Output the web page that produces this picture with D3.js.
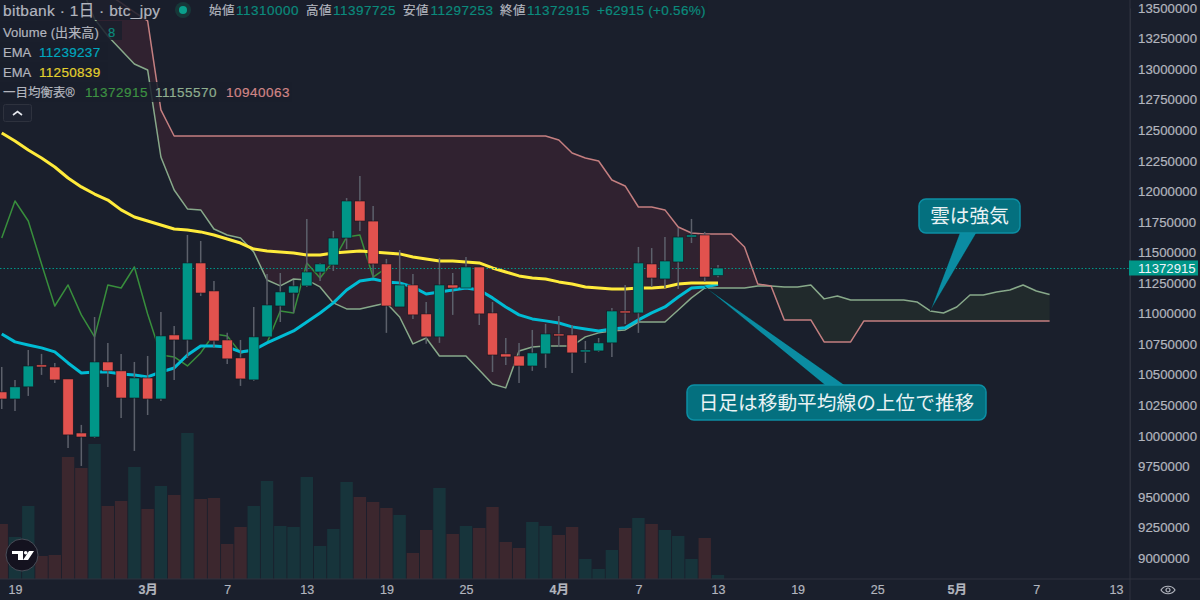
<!DOCTYPE html>
<html>
<head>
<meta charset="utf-8">
<style>
html, body { margin: 0; padding: 0; background: #1a1f2c; }
svg { display: block; }
text { font-family: "Liberation Sans", "Noto Sans CJK JP", sans-serif; }
.axis text { fill: #b2b5be; stroke: #b2b5be; stroke-width: 0.2; }
.jp { font-family: "Noto Sans CJK JP", sans-serif; }
</style>
<script src="https://cdn.jsdelivr.net/npm/d3@7"></script>
</head>
<body>
<svg id="chart" width="1200" height="600"></svg>
<script>
// daily candles, first one is 18 Feb
const opens = [10359000,10301000,10400000,10580000,10563000,10465000,10023000,9990000,10604000,10531000,10309000,10473000,10301000,10825000,10784000,11414000,11185000,10784000,10637000,10457000,10809000,11062000,11168000,11226000,11340000,11397000,11618000,11921000,11757000,11406000,11054000,11234000,10997000,10809000,11234000,11209000,11381000,11005000,10670000,10653000,10571000,10670000,10833000,10825000,10686000,10694000,10760000,11021000,11005000,11406000,11283000,11422000,11626000,11643000,11310000];
const highs = [10563000,10457000,10702000,10670000,10596000,10465000,10089000,10972000,10760000,10670000,10604000,10653000,11013000,10898000,11643000,11594000,11267000,10842000,10784000,11054000,11324000,11332000,11275000,11774000,11414000,11676000,11945000,12125000,11880000,11447000,11520000,11324000,11095000,11455000,11332000,11463000,11381000,11095000,10800000,10760000,10866000,10915000,10980000,10907000,10776000,10800000,11046000,11234000,11545000,11536000,11626000,11700000,11774000,11668000,11397725];
const lows = [10219000,10203000,10326000,10498000,10432000,9900000,9753000,9982000,10400000,10146000,9876000,10170000,10285000,10457000,10637000,11144000,10719000,10588000,10408000,10449000,10809000,10931000,11005000,11218000,11267000,11348000,11528000,11676000,11299000,10842000,11054000,10956000,10752000,10760000,10989000,11209000,10907000,10522000,10580000,10432000,10531000,10555000,10727000,10514000,10596000,10686000,10645000,10915000,10842000,11218000,11209000,11201000,11577000,11259000,11297253];
const closes = [10301000,10400000,10571000,10563000,10457000,10007000,9990000,10604000,10531000,10309000,10473000,10301000,10817000,10784000,11414000,11168000,10776000,10629000,10465000,10809000,11070000,11177000,11226000,11340000,11406000,11618000,11921000,11757000,11406000,11062000,11234000,10989000,10809000,11234000,11209000,11381000,10997000,10661000,10645000,10571000,10678000,10833000,10817000,10678000,10702000,10760000,11021000,11005000,11414000,11291000,11430000,11626000,11643000,11299000,11372915];
const volumes = [110,84,146,46,48,244,222,270,146,156,224,140,186,168,292,160,162,70,104,146,196,106,104,204,66,100,194,164,154,142,128,52,98,182,90,106,102,144,74,62,114,106,88,104,40,20,58,102,122,110,98,86,40,82,8];

const emaFast = [10833000,10768000,10743000,10719000,10686000,10596000,10514000,10522000,10522000,10506000,10498000,10482000,10522000,10555000,10661000,10735000,10735000,10727000,10686000,10702000,10760000,10809000,10858000,10931000,11005000,11087000,11193000,11267000,11283000,11259000,11250000,11218000,11160000,11177000,11193000,11209000,11193000,11128000,11054000,10989000,10956000,10940000,10923000,10891000,10874000,10858000,10874000,10883000,10948000,11005000,11054000,11136000,11209000,11218000,11239237];
const emaSlow = [12477000,12412000,12338000,12273000,12199000,12109000,12036000,11978000,11929000,11848000,11790000,11757000,11725000,11692000,11684000,11668000,11643000,11610000,11577000,11528000,11512000,11504000,11496000,11479000,11479000,11496000,11504000,11512000,11504000,11496000,11488000,11463000,11447000,11430000,11430000,11422000,11414000,11373000,11340000,11308000,11291000,11283000,11259000,11242000,11218000,11209000,11201000,11201000,11209000,11209000,11218000,11242000,11250000,11250000,11250839];

// ichimoku, lagging line starts 18 Feb, both spans start 24 Feb
const lagging = [11618000,11921000,11757000,11406000,11062000,11234000,10989000,10809000,11234000,11209000,11381000,10997000,10661000,10645000,10571000,10678000,10833000,10817000,10678000,10702000,10760000,11021000,11005000,11414000,11291000,11430000,11626000,11643000,11299000,11372915];
const spanA = [13672000,13410000,13271000,13156000,13042000,12993000,12281000,12011000,11856000,11848000,11692000,11643000,11618000,11504000,11275000,11226000,11283000,11275000,11218000,11087000,11038000,11038000,11062000,11087000,10972000,10752000,10800000,10653000,10653000,10653000,10539000,10424000,10392000,10694000,10727000,10735000,10735000,10735000,10809000,10842000,10858000,10866000,10931000,10931000,10931000,11029000,11128000,11209000,11209000,11209000,11209000,11226000,11226000,11218000,11218000,11234000,11120000,11144000,11111000,11111000,11111000,11111000,11111000,11095000,11021000,11005000,11054000,11152000,11152000,11177000,11193000,11234000,11185000,11155570];
const spanB = [13762000,13688000,13614000,13541000,13467000,13394000,12666000,12453000,12453000,12453000,12453000,12453000,12453000,12453000,12453000,12453000,12453000,12453000,12453000,12453000,12453000,12453000,12453000,12453000,12453000,12453000,12453000,12453000,12453000,12453000,12453000,12453000,12453000,12453000,12453000,12453000,12420000,12314000,12273000,12248000,12093000,12044000,11872000,11872000,11848000,11708000,11659000,11651000,11651000,11651000,11545000,11242000,11226000,10948000,10948000,10948000,10768000,10768000,10768000,10940063,10940063,10940063,10940063,10940063,10940063,10940063,10940063,10940063,10940063,10940063,10940063,10940063,10940063,10940063];

const tickDates = ["2025-02-19","2025-03-01","2025-03-07","2025-03-13","2025-03-19","2025-03-25","2025-04-01","2025-04-07","2025-04-13","2025-04-19","2025-04-25","2025-05-01","2025-05-07","2025-05-13"];
const tickLabels = ["19","3月","7","13","19","25","4月","7","13","19","25","5月","7","13"];
const priceTicks = d3.range(9000000, 13500001, 250000);

const UP = "#009688", DOWN = "#e2524e", BG = "#1a1f2c", LINE = "#2e323e";
const plotW = 1130, plotH = 579;

const firstDay = new Date(Date.UTC(2025, 1, 18));
const dayAt = n => d3.utcDay.offset(firstDay, n);
const x = d3.scaleUtc().domain([new Date("2025-02-19"), new Date("2025-04-13")]).range([15, 718]);
const y = d3.scaleLinear().domain([9000000, 13500000]).range([558, 8]);
const yVol = d3.scaleLinear().domain([0, 292]).range([plotH, 433]);

const svg = d3.select("#chart");
svg.append("rect").attr("width", 1200).attr("height", 600).attr("fill", BG);
svg.append("clipPath").attr("id", "plot").append("rect").attr("width", plotW).attr("height", plotH);
const plot = svg.append("g").attr("clip-path", "url(#plot)");

// cloud
const cloud = spanA.map((a, i) => ({ day: dayAt(i + 6), a: a, b: spanB[i] }));
const area = d3.area().x(d => x(d.day)).y0(d => y(d.a)).y1(d => y(d.b));
plot.append("path").attr("d", area.defined(d => d.b >= d.a)(cloud)).attr("fill", "#302230");
plot.append("path").attr("d", area.defined(d => d.a >= d.b)(cloud)).attr("fill", "#212a2c");

// volume
const candles = opens.map((o, i) => ({ day: dayAt(i), o: o, h: highs[i], l: lows[i], c: closes[i], v: volumes[i] }));
plot.append("g").selectAll("rect").data(candles).join("rect")
  .attr("x", d => x(d.day) - 6.2)
  .attr("width", 12.4)
  .attr("y", d => yVol(d.v))
  .attr("height", d => plotH - yVol(d.v))
  .attr("fill", d => d.c >= d.o ? "#17343b" : "#3c272e");

// indicator lines
const line = d3.line().x(d => x(d[0])).y(d => y(d[1]));
function drawLine(values, offset, color, width) {
  plot.append("path")
    .attr("d", line(values.map((v, i) => [dayAt(i + offset), v])))
    .attr("fill", "none").attr("stroke", color).attr("stroke-width", width).attr("stroke-linejoin", "round");
}
drawLine(lagging, 0, "#388e3c", 1.5);
drawLine(spanA, 6, "#88a98a", 1.5);
drawLine(spanB, 6, "#c47f80", 1.5);
drawLine(emaFast, 0, "#00bcd4", 3);
drawLine(emaSlow, 0, "#ffeb3b", 3);

// last price dotted line
const lastY = Math.round(y(closes[closes.length - 1])) + 0.5;
plot.append("line").attr("x1", 0).attr("x2", plotW)
  .attr("y1", lastY).attr("y2", lastY)
  .attr("stroke", UP).attr("stroke-width", 1).attr("stroke-dasharray", "1.5 2");

// candles
const gc = plot.append("g");
gc.selectAll("line").data(candles).join("line")
  .attr("x1", d => x(d.day)).attr("x2", d => x(d.day))
  .attr("y1", d => y(d.h)).attr("y2", d => y(d.l))
  .attr("stroke", "#5c606b").attr("stroke-width", 1.5);
gc.selectAll("rect").data(candles).join("rect")
  .attr("x", d => x(d.day) - 5.2)
  .attr("width", 10.4)
  .attr("y", d => y(Math.max(d.o, d.c)))
  .attr("height", d => Math.abs(y(d.o) - y(d.c)))
  .attr("fill", d => d.c >= d.o ? UP : DOWN)
  .attr("stroke", "#12151e").attr("stroke-width", 0.6);

// axes
const axisY = d3.axisRight(y).tickValues(priceTicks).tickSize(0).tickPadding(8).tickFormat(d3.format("d"));
const gy = svg.append("g").attr("class", "axis").attr("transform", `translate(${plotW},0)`).call(axisY);
gy.select(".domain").attr("stroke", LINE);
gy.selectAll("text").attr("font-size", 13.2).attr("letter-spacing", 0.05).attr("font-family", "Liberation Sans");
svg.append("line").attr("x1", plotW).attr("x2", plotW).attr("y1", 0).attr("y2", 600).attr("stroke", LINE);

const axisX = d3.axisBottom(x).tickValues(tickDates.map(d => new Date(d))).tickSize(0).tickPadding(6)
  .tickFormat((d, i) => tickLabels[i]);
const gx = svg.append("g").attr("class", "axis").attr("transform", `translate(0,${plotH})`).call(axisX);
gx.select(".domain").remove();
gx.selectAll("text").attr("font-size", 12.5).attr("font-weight", (d, i) => /月/.test(tickLabels[i]) ? 700 : 400);
svg.append("line").attr("x1", 0).attr("x2", 1200).attr("y1", plotH).attr("y2", plotH).attr("stroke", LINE);

// last price label
const lastG = svg.append("g").attr("transform", `translate(${plotW - 1},${y(closes[closes.length - 1])})`);
lastG.append("rect").attr("y", -7.5).attr("width", 69).attr("height", 15).attr("fill", UP);
lastG.append("text").attr("x", 9).attr("y", 0).attr("dy", "0.36em").attr("font-size", 13.2).attr("fill", "#f0f3fa")
  .text(d3.format("d")(closes[closes.length - 1]));

// legend
const legend = svg.append("g");
const legendBoxes = [[0, 0, 708, 20], [0, 21, 122, 19], [0, 42, 108, 18], [0, 62, 108, 18], [0, 82, 292, 20]];
legend.selectAll("rect").data(legendBoxes).join("rect")
  .attr("x", d => d[0]).attr("y", d => d[1]).attr("width", d => d[2]).attr("height", d => d[3])
  .attr("fill", BG).attr("opacity", 0.85);

const GREY = "#b2b5be", VAL = "#0b8a7c";
const legendTexts = [
  ["bitbank · 1日 · btc_jpy", 3, 10, GREY, 15.5, 0.3],
  ["始値", 209, 10, GREY, 12.5, 0.5], ["11310000", 236, 10, VAL, 13.5, 0.5],
  ["高値", 306, 10, GREY, 12.5, 0.5], ["11397725", 333, 10, VAL, 13.5, 0.5],
  ["安値", 403, 10, GREY, 12.5, 0.5], ["11297253", 430.5, 10, VAL, 13.5, 0.5],
  ["終値", 500, 10, GREY, 12.5, 0.5], ["11372915", 527, 10, VAL, 13.5, 0.5],
  ["+62915 (+0.56%)", 597, 10, VAL, 13.5, 0.3],
  ["Volume (出来高)", 3, 32, GREY, 13, 0.1], ["8", 108, 32, VAL, 13, 0],
  ["EMA", 3, 52, GREY, 13, 0], ["11239237", 39, 52, "#00a7be", 13.5, 0.3],
  ["EMA", 3, 72, GREY, 13, 0], ["11250839", 39, 72, "#e3d02e", 13.5, 0.3],
  ["一目均衡表®", 3, 92, GREY, 12.5, 0], ["11372915", 85, 92, "#3d9142", 13.5, 0.5],
  ["11155570", 155, 92, "#8fae8f", 13.5, 0.5], ["10940063", 226, 92, "#d08586", 13.5, 0.5]
];
legend.selectAll("text").data(legendTexts).join("text")
  .attr("x", d => d[1]).attr("y", d => d[2]).attr("dy", "0.36em")
  .attr("fill", d => d[3]).attr("stroke", d => d[3]).attr("stroke-width", 0.2)
  .attr("font-size", d => d[4]).attr("letter-spacing", d => d[5]).text(d => d[0]);

// status dot
legend.append("circle").attr("cx", 183).attr("cy", 10).attr("r", 8).attr("fill", "#17423f").attr("opacity", 0.7);
legend.append("circle").attr("cx", 183).attr("cy", 10).attr("r", 4).attr("fill", "#0aa08c");

// collapse button
legend.append("rect").attr("x", 3.5).attr("y", 104.5).attr("width", 28).attr("height", 17).attr("rx", 2)
  .attr("fill", "#1d2230").attr("stroke", "#2e323e");
legend.append("path").attr("d", "M13 115l4.5-3.5l4.5 3.5").attr("fill", "none").attr("stroke", "#e6e8ee").attr("stroke-width", 1.6);

// callouts, tail tip sits on the chart by date and price
const calloutTexts = ["雲は強気", "日足は移動平均線の上位で推移"];
const calloutBoxes = [[919, 199, 101, 34, 960, 977], [687, 385, 299, 35, 826, 846]];
const calloutTips = [[new Date("2025-04-29"), 11021000], [new Date("2025-04-12"), 11220000]];
const callouts = svg.append("g");
calloutBoxes.forEach((b, i) => {
  const tipX = x(calloutTips[i][0]), tipY = y(calloutTips[i][1]);
  const baseY = i === 0 ? b[1] + b[3] - 1 : b[1] + 1;
  callouts.append("path")
    .attr("d", `M${b[4]} ${baseY}L${tipX} ${tipY}L${b[5]} ${baseY}Z`)
    .attr("fill", "#0b8ca2").attr("stroke", "#12161f").attr("stroke-width", 0.5);
  callouts.append("rect").attr("x", b[0]).attr("y", b[1]).attr("width", b[2]).attr("height", b[3]).attr("rx", 7)
    .attr("fill", "#04707f").attr("stroke", "#0c8ea4").attr("stroke-width", 1.5);
  callouts.append("text").attr("class", "jp")
    .attr("x", b[0] + b[2] / 2).attr("y", b[1] + b[3] / 2).attr("dy", "0.36em")
    .attr("text-anchor", "middle").attr("font-size", 19.7).attr("fill", "#e9f2f4")
    .text(calloutTexts[i]);
});

// tradingview mark
const logo = svg.append("g").attr("transform", "translate(22,555)");
logo.append("circle").attr("r", 16).attr("fill", "#14121f").attr("stroke", "#4a4d58").attr("stroke-width", 1);
logo.append("path").attr("fill", "#fff").attr("d", "M-10-4H1V5H-4V-1H-10Z M7-4H12L6 5H1Z");
logo.append("circle").attr("cx", 3.7).attr("cy", -2.3).attr("r", 1.8).attr("fill", "#fff");

// settings eye, bottom right
const eye = svg.append("g").attr("transform", "translate(1168,590)").attr("fill", "none").attr("stroke", "#b2b5be").attr("stroke-width", 1.2);
eye.append("path").attr("d", "M-7 0C-4-5 4-5 7 0C4 5-4 5-7 0Z");
eye.append("circle").attr("r", 2);
</script>
</body>
</html>
